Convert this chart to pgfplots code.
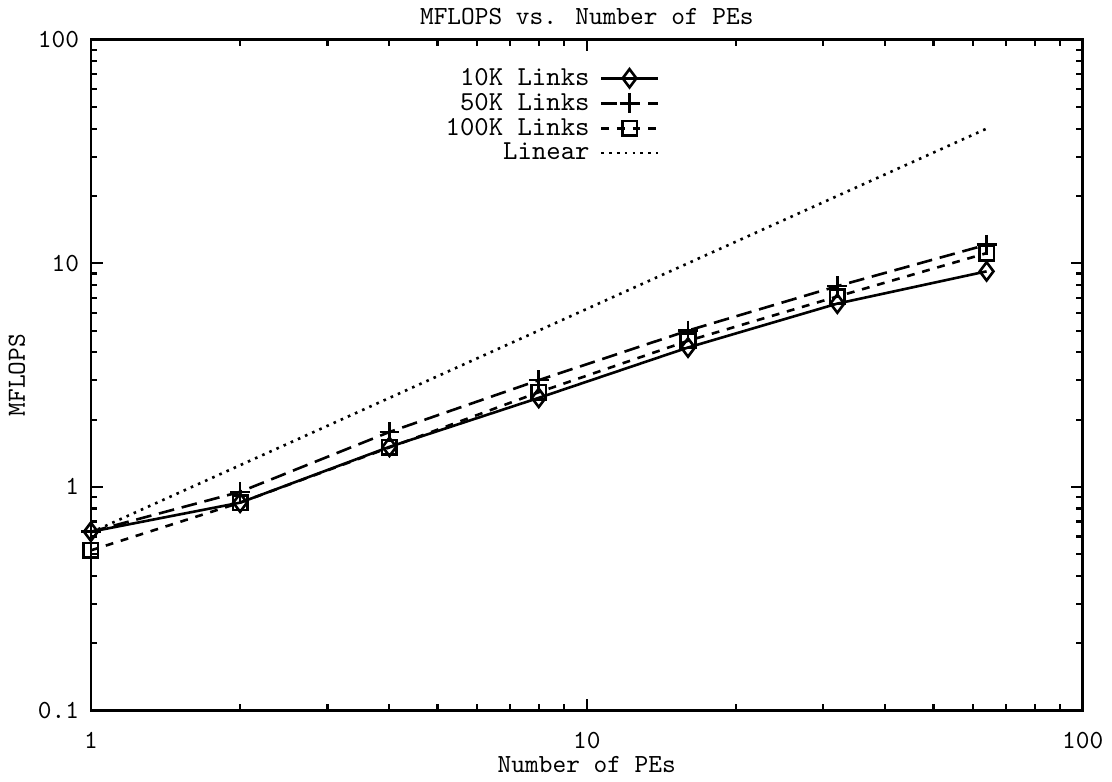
\documentclass[border=0pt]{standalone}
\usepackage{pgfplots}
\pgfplotsset{compat=1.18}
\renewcommand{\familydefault}{\ttdefault}
\begin{document}
\begin{tikzpicture}
\begin{axis}[
    scale only axis,
    width=380pt, height=257pt,
    xmode=log, ymode=log,
    xmin=1, xmax=100, ymin=0.1, ymax=100,
    title={MFLOPS vs. Number of PEs},
    title style={yshift=-4pt},
    xlabel={Number of PEs},
    xlabel style={yshift=4pt},
    ylabel={MFLOPS},
    ylabel style={yshift=-2pt},
    log ticks with fixed point,
    /pgf/number format/assume math mode=true,
    tick label style={font=\ttfamily},
    xticklabel style={yshift=-5pt},
    yticklabel style={xshift=-1pt},
    tick align=inside,
    major tick length=4.5pt,
    minor tick length=2.5pt,
    axis line style={line width=1pt},
    every tick/.style={black, line width=0.8pt},
    legend style={at={(0.46,0.965)}, anchor=north, draw=none, fill=none,
        legend cell align=right, row sep=2.2pt,
        font=\fontsize{10.5}{11}\selectfont,
        nodes={inner xsep=4pt, inner ysep=0pt, text height=6.2pt, text depth=1pt}},
    legend plot pos=right,
    legend image code/.code={\draw[mark repeat=2, mark phase=2, #1]
        plot coordinates {(0cm,0cm) (0.38cm,0cm) (0.76cm,0cm)};},
]
\addplot[black, line width=1pt, mark=diamond, mark size=3.5pt, mark options={solid, fill=white}]
    coordinates {(1,0.63) (2,0.85) (4,1.51) (8,2.5) (16,4.2) (32,6.6) (64,9.2)};
\addplot[black, line width=1pt, dash pattern=on 6pt off 3pt, mark=+, mark size=3.8pt, mark options={solid}]
    coordinates {(1,0.63) (2,0.95) (4,1.76) (8,3.0) (16,5.0) (32,7.9) (64,12.1)};
\addplot[black, line width=1pt, dash pattern=on 3pt off 3pt, mark=square, mark size=2.8pt, mark options={solid}]
    coordinates {(1,0.52) (2,0.85) (4,1.5) (8,2.65) (16,4.5) (32,7.1) (64,11.1)};
\addplot[black, line width=1pt, dash pattern=on 1pt off 2pt]
    coordinates {(1,0.625) (64,40)};
\legend{10K Links, 50K Links, 100K Links, Linear}
\end{axis}
\end{tikzpicture}
\end{document}
